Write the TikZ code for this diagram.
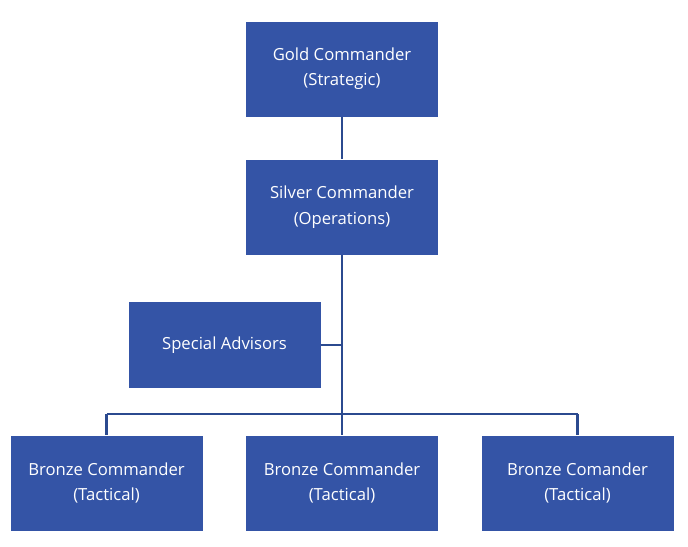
\documentclass[tikz,border=0pt]{standalone}
\usepackage{fontspec}
\setmainfont{Open Sans}
\definecolor{boxblue}{HTML}{3454A6}
\definecolor{lineblue}{HTML}{2B4A8F}
\tikzset{
  cmd/.style={fill=boxblue, text=white, minimum width=192*0.75pt, minimum height=95*0.75pt,
    align=center, font=\fontsize{12.5}{19}\selectfont, inner sep=0pt},
  link/.style={draw=lineblue, line width=1.6pt}
}
\begin{document}
\begin{tikzpicture}[x=0.75pt, y=-0.75pt]
  \useasboundingbox (0,0) rectangle (688,546);
  \node[cmd] (gold) at (342,69) {Gold Commander\\(Strategic)};
  \node[cmd] (silver) at (342,207) {Silver Commander\\(Operations)};
  \node[cmd, minimum height=86*0.75pt] (advisors) at (224.5,345) {Special Advisors};
  \node[cmd] (bronzeA) at (106.5,483) {Bronze Commander\\(Tactical)};
  \node[cmd] (bronzeB) at (342,483) {Bronze Commander\\(Tactical)};
  \node[cmd] (bronzeC) at (577.5,483) {Bronze Comander\\(Tactical)};

  % junctions
  \coordinate (side) at (342,345);
  \coordinate (busL) at (106.5,414);
  \coordinate (busM) at (342,414);
  \coordinate (busR) at (577.5,414);

  \draw[link] (gold) -- (silver);
  \draw[link] (silver) -- (busM);
  \draw[link] (advisors) -- (side);
  \draw[link] (busL) -- (busR);
  \draw[link] (busL) -- (bronzeA);
  \draw[link] (busM) -- (bronzeB);
  \draw[link] (busR) -- (bronzeC);
\end{tikzpicture}
\end{document}
